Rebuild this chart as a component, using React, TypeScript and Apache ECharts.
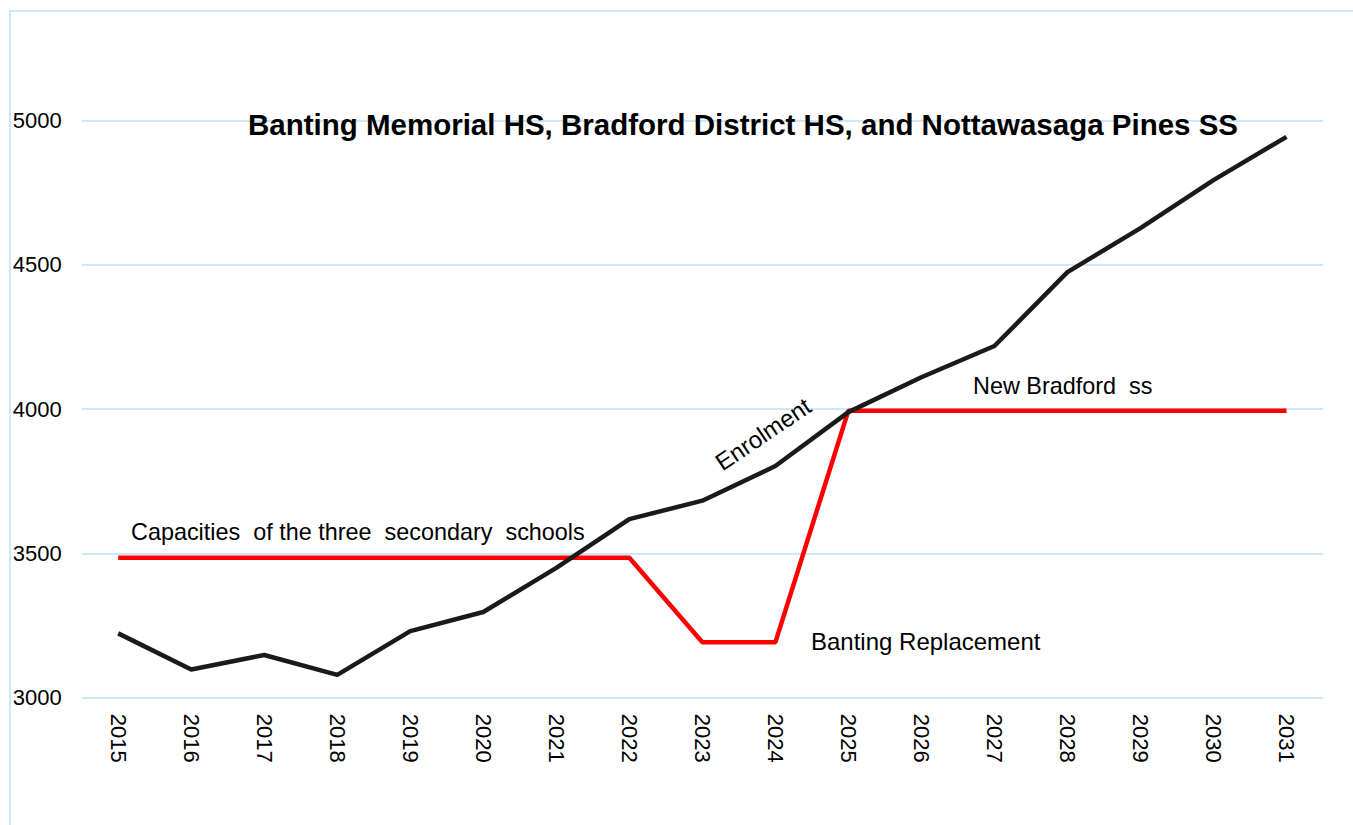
import React, { useEffect, useRef } from "react";
import * as echarts from "echarts";

const years = ["2015","2016","2017","2018","2019","2020","2021","2022","2023","2024","2025","2026","2027","2028","2029","2030","2031"];
const enrolment = [3223, 3098, 3148, 3079, 3231, 3297, 3450, 3619, 3683, 3803, 3990, 4111, 4219, 4475, 4628, 4794, 4944];
const capacity = [3485, 3485, 3485, 3485, 3485, 3485, 3485, 3485, 3192, 3192, 3995, 3995, 3995, 3995, 3995, 3995, 3995];

const FONT = "Liberation Sans, Arial, sans-serif";
const SHIFT = 50;

export default function App() {
  const ref = useRef<HTMLDivElement>(null);
  useEffect(() => {
    document.body.style.margin = "0";
    const chart = echarts.init(ref.current!, null, { renderer: "svg" });
    chart.setOption({
      animation: false,
      textStyle: { fontFamily: FONT },
      grid: { left: 81.7, right: 30, top: SHIFT - 23.5, bottom: 127.3, containLabel: false },
      xAxis: {
        type: "category",
        data: years,
        boundaryGap: true,
        axisLine: { show: false },
        axisTick: { show: false },
        axisLabel: { rotate: -90, fontSize: 22, color: "#000", margin: 16, fontFamily: FONT },
        splitLine: { show: false },
      },
      yAxis: {
        type: "value",
        min: 3000,
        max: 5500,
        interval: 500,
        axisLine: { show: false },
        axisTick: { show: false },
        axisLabel: {
          fontSize: 22,
          color: "#000",
          margin: 20,
          fontFamily: FONT,
          showMaxLabel: false,
          formatter: (v: number) => (v > 5000 ? "" : String(v)),
        },
        splitLine: { show: true, lineStyle: { color: "#cde8f8", width: 2 } },
      },
      series: [
        {
          name: "Capacity",
          type: "line",
          data: capacity,
          symbol: "none",
          lineStyle: { color: "#ff0000", width: 4.5 },
          z: 3,
        },
        {
          name: "Enrolment",
          type: "line",
          data: enrolment,
          symbol: "none",
          lineStyle: { color: "#1a1a1a", width: 4.5 },
          z: 4,
        },
      ],
      graphic: [
        {
          type: "rect",
          z: 1,
          shape: { x: 10, y: 11 + SHIFT, width: 1500, height: 1000 },
          style: { fill: "none", stroke: "#cde8f8", lineWidth: 2 },
          silent: true,
        },
        {
          type: "text",
          z: 100,
          x: 743,
          y: 124 + SHIFT,
          style: {
            text: "Banting Memorial HS, Bradford District HS, and Nottawasaga Pines SS",
            font: `bold 29.5px ${FONT}`,
            fill: "#000",
            textAlign: "center",
            textVerticalAlign: "middle",
          },
        },
        {
          type: "text",
          z: 100,
          x: 131,
          y: 532 + SHIFT,
          style: {
            text: "Capacities  of the three  secondary  schools",
            font: `23.4px ${FONT}`,
            fill: "#000",
            textAlign: "left",
            textVerticalAlign: "middle",
          },
        },
        {
          type: "text",
          z: 100,
          x: 763,
          y: 434 + SHIFT,
          rotation: (34 * Math.PI) / 180,
          style: {
            text: "Enrolment",
            font: `24px ${FONT}`,
            fill: "#000",
            textAlign: "center",
            textVerticalAlign: "middle",
          },
        },
        {
          type: "text",
          z: 100,
          x: 973,
          y: 386 + SHIFT,
          style: {
            text: "New Bradford  ss",
            font: `23.4px ${FONT}`,
            fill: "#000",
            textAlign: "left",
            textVerticalAlign: "middle",
          },
        },
        {
          type: "text",
          z: 100,
          x: 811,
          y: 641 + SHIFT,
          style: {
            text: "Banting Replacement",
            font: `24px ${FONT}`,
            fill: "#000",
            textAlign: "left",
            textVerticalAlign: "middle",
          },
        },
      ],
    });
    return () => chart.dispose();
  }, []);
  return (
    <div style={{ width: 1353, height: 825, overflow: "hidden", position: "relative" }}>
      <div ref={ref} style={{ position: "absolute", left: 0, top: -SHIFT, width: 1353, height: 825 + SHIFT }} />
    </div>
  );
}
